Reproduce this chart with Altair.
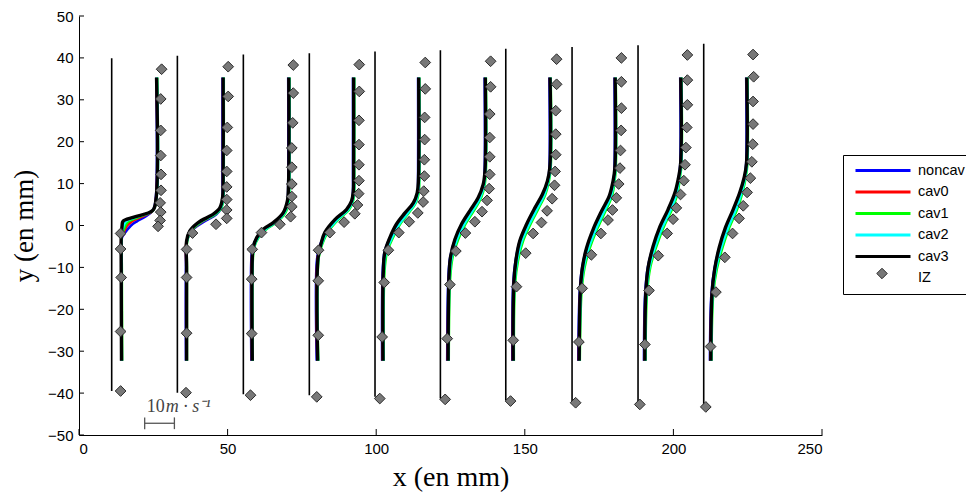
import altair as alt
import pandas as pd

# ---------------- data ----------------
cases = ["noncav", "cav0", "cav1", "cav2", "cav3"]
case_colors = ["#0000ff", "#ff0000", "#00ff00", "#00ffff", "#000000"]
legend_domain = cases + ["IZ"]
stroke_range = case_colors + ["transparent"]
iz_fill = "#787878"
iz_edge = "#2b2b2b"

# station reference (zero-velocity) lines
station_x = [11.0, 33.1, 55.3, 77.5, 99.6, 121.6, 143.6, 165.9, 188.1, 210.2]
station_top = [39.9, 40.5, 40.8, 41.1, 41.5, 41.8, 42.2, 42.6, 43.0, 43.4]
station_bot = [-39.5, -39.9, -40.3, -40.5, -40.9, -41.3, -41.7, -42.1, -42.5, -43.3]

# profile y positions per station
prof_y = [
    [-32.3, -10.0, -3.0, -2.0, 0.0, 1.0, 2.0, 3.6, 6.2, 35.3],
    [-32.3, -10.0, -3.7, -1.3, 0.7, 2.7, 4.2, 6.6, 11.4, 35.3],
    [-32.3, -8.0, -5.3, -2.9, -0.9, 0.7, 3.0, 5.8, 9.8, 35.3],
    [-32.3, -8.0, -4.5, -1.7, 1.4, 3.8, 5.8, 8.2, 12.0, 35.3],
    [-32.3, -10.8, -6.4, -2.9, 0.3, 3.0, 5.4, 7.8, 10.6, 35.3],
    [-32.3, -12.4, -7.6, -3.3, 0.3, 3.5, 6.6, 9.8, 13.0, 35.3],
    [-32.3, -14.0, -8.4, -3.7, 0.3, 4.2, 7.4, 10.6, 13.7, 35.3],
    [-32.3, -15.6, -10.0, -5.3, -0.9, 3.4, 7.0, 10.6, 13.7, 35.3],
    [-32.3, -16.3, -10.0, -4.9, -0.4, 3.8, 7.8, 11.0, 14.5, 35.3],
    [-32.3, -16.3, -10.4, -5.3, -0.5, 3.8, 7.8, 11.4, 14.9, 35.3],
]

x_noncav = [
    [14.4, 14.3, 14.4, 15.2, 17.5, 19.5, 22.0, 24.9, 25.8, 26.0],
    [36.0, 36.0, 36.3, 37.8, 41.5, 46.2, 47.8, 48.3, 48.3, 48.3],
    [58.0, 58.0, 58.4, 59.9, 62.6, 66.0, 69.1, 70.2, 70.4, 70.4],
    [80.0, 80.1, 81.2, 83.0, 86.8, 90.6, 91.9, 92.2, 92.2, 92.2],
    [102.0, 102.2, 102.8, 104.7, 107.3, 110.4, 113.0, 114.0, 114.1, 114.1],
    [123.9, 124.3, 124.9, 126.6, 129.1, 132.1, 134.8, 136.2, 136.5, 136.5],
    [145.8, 146.1, 146.9, 148.4, 151.0, 154.0, 156.4, 157.8, 158.3, 158.3],
    [168.0, 168.5, 169.3, 170.9, 173.4, 176.4, 178.9, 179.9, 180.2, 180.2],
    [190.1, 190.5, 191.4, 193.3, 195.8, 198.8, 201.0, 201.8, 202.3, 202.3],
    [212.3, 212.8, 213.8, 215.5, 217.9, 220.7, 222.8, 224.0, 224.5, 224.5],
]
x_cav0 = [
    [14.4, 14.3, 14.3, 14.8, 16.2, 17.8, 20.8, 24.9, 25.9, 26.1],
    [36.1, 36.1, 36.2, 37.6, 40.9, 45.8, 47.7, 48.4, 48.5, 48.5],
    [58.2, 58.2, 58.6, 60.0, 62.5, 65.9, 69.0, 70.3, 70.6, 70.6],
    [80.2, 80.3, 81.4, 83.1, 86.7, 90.5, 92.0, 92.4, 92.4, 92.4],
    [102.2, 102.4, 103.0, 104.9, 107.3, 110.3, 112.9, 114.0, 114.3, 114.3],
    [124.1, 124.5, 125.1, 126.8, 129.2, 132.0, 134.7, 136.2, 136.7, 136.7],
    [146.0, 146.3, 147.1, 148.6, 151.1, 153.9, 156.3, 157.8, 158.5, 158.5],
    [168.2, 168.7, 169.5, 171.1, 173.5, 176.3, 178.8, 179.9, 180.4, 180.4],
    [190.3, 190.7, 191.6, 193.5, 195.9, 198.7, 200.9, 201.8, 202.5, 202.5],
    [212.5, 213.0, 214.0, 215.7, 218.0, 220.6, 222.7, 224.0, 224.7, 224.7],
]
x_cav1 = [
    [14.5, 14.4, 14.3, 14.6, 15.6, 16.8, 20.0, 24.9, 26.0, 26.3],
    [36.3, 36.3, 36.4, 37.6, 40.8, 45.9, 47.9, 48.6, 48.7, 48.7],
    [58.4, 58.5, 58.9, 60.4, 63.0, 66.4, 69.4, 70.6, 70.8, 70.8],
    [80.5, 80.6, 81.8, 83.6, 87.2, 90.9, 92.2, 92.6, 92.6, 92.6],
    [102.5, 102.8, 103.6, 105.6, 108.0, 110.9, 113.3, 114.3, 114.5, 114.5],
    [124.4, 124.9, 125.7, 127.6, 130.0, 132.8, 135.3, 136.5, 136.9, 136.9],
    [146.3, 146.7, 147.7, 149.4, 151.9, 154.7, 156.9, 158.1, 158.7, 158.7],
    [168.5, 169.1, 170.1, 171.9, 174.3, 177.1, 179.3, 180.2, 180.6, 180.6],
    [190.6, 191.1, 192.2, 194.3, 196.7, 199.5, 201.4, 202.1, 202.7, 202.7],
    [212.8, 213.4, 214.6, 216.5, 218.8, 221.4, 223.2, 224.3, 224.9, 224.9],
]
x_cav2 = [
    [14.4, 14.3, 14.3, 14.4, 15.0, 15.8, 19.3, 24.8, 26.0, 26.2],
    [36.2, 36.2, 36.3, 37.5, 40.5, 45.6, 47.7, 48.5, 48.6, 48.6],
    [58.3, 58.4, 58.8, 60.2, 62.7, 66.1, 69.1, 70.4, 70.7, 70.7],
    [80.4, 80.5, 81.6, 83.3, 86.9, 90.6, 92.0, 92.5, 92.5, 92.5],
    [102.4, 102.6, 103.3, 105.3, 107.7, 110.6, 113.1, 114.1, 114.4, 114.4],
    [124.3, 124.7, 125.4, 127.2, 129.6, 132.4, 135.0, 136.3, 136.8, 136.8],
    [146.2, 146.5, 147.4, 149.0, 151.5, 154.3, 156.6, 157.9, 158.6, 158.6],
    [168.4, 168.9, 169.8, 171.5, 173.9, 176.7, 179.0, 180.0, 180.5, 180.5],
    [190.5, 190.9, 191.9, 193.9, 196.3, 199.1, 201.1, 201.9, 202.6, 202.6],
    [212.7, 213.2, 214.3, 216.1, 218.4, 221.0, 222.9, 224.1, 224.8, 224.8],
]
x_cav3 = [
    [14.3, 14.2, 14.2, 14.3, 14.5, 14.8, 18.5, 24.8, 25.9, 26.1],
    [36.2, 36.2, 36.2, 37.3, 40.1, 45.2, 47.4, 48.3, 48.5, 48.5],
    [58.3, 58.3, 58.6, 59.8, 62.0, 65.4, 68.7, 70.1, 70.5, 70.6],
    [80.3, 80.4, 81.4, 82.7, 86.1, 90.0, 91.7, 92.3, 92.4, 92.4],
    [102.3, 102.4, 102.9, 104.6, 106.8, 109.7, 112.5, 113.8, 114.2, 114.3],
    [124.2, 124.5, 125.0, 126.5, 128.7, 131.5, 134.3, 136.0, 136.6, 136.7],
    [146.1, 146.3, 147.0, 148.3, 150.6, 153.4, 155.9, 157.6, 158.4, 158.5],
    [168.3, 168.7, 169.4, 170.8, 173.0, 175.8, 178.4, 179.7, 180.3, 180.4],
    [190.4, 190.7, 191.5, 193.2, 195.4, 198.2, 200.5, 201.6, 202.4, 202.5],
    [212.6, 213.0, 213.9, 215.4, 217.5, 220.1, 222.3, 223.8, 224.6, 224.7],
]

# IZ measurement points (diamonds)
iz_y = [
    [37.3, 30.2, 22.7, 16.7, 12.2, 8.4, 5.4, 3.2, 1.2, -0.2, -1.9, -5.6, -12.4, -25.3, -39.5],
    [37.9, 30.8, 23.4, 17.9, 12.9, 9.2, 6.2, 3.7, 1.7, 0.3, -1.8, -5.7, -12.4, -25.7, -39.9],
    [38.3, 31.6, 24.5, 18.5, 13.9, 9.9, 6.9, 4.5, 2.1, 0.3, -1.7, -5.7, -12.8, -25.8, -40.5],
    [38.4, 32.0, 25.1, 19.3, 14.5, 10.7, 7.6, 4.9, 2.8, 0.8, -1.7, -5.9, -13.2, -26.2, -40.9],
    [38.9, 32.6, 25.8, 20.5, 15.7, 11.8, 8.2, 5.6, 3.0, 0.9, -1.7, -5.9, -13.6, -26.6, -41.3],
    [39.2, 33.1, 26.6, 21.0, 16.4, 12.2, 8.8, 6.0, 3.3, 0.9, -1.8, -6.1, -14.1, -27.0, -41.5],
    [39.7, 33.7, 27.4, 21.8, 16.9, 12.9, 9.6, 6.4, 3.5, 0.7, -1.9, -6.6, -14.6, -27.4, -41.9],
    [40.0, 34.3, 28.0, 22.7, 17.9, 13.7, 9.9, 6.6, 3.7, 1.3, -1.9, -7.0, -15.0, -27.8, -42.3],
    [40.7, 34.7, 28.8, 23.4, 18.6, 14.5, 10.7, 7.4, 4.2, 1.5, -1.9, -7.2, -15.5, -28.4, -42.7],
    [40.8, 35.5, 29.6, 24.2, 19.4, 15.2, 11.3, 7.9, 4.7, 1.7, -1.9, -7.6, -15.9, -28.9, -43.3],
]
iz_x = [
    [27.8, 27.5, 27.5, 27.5, 27.6, 27.6, 27.3, 27.5, 27.3, 26.6, 14.0, 14.0, 14.2, 14.0, 14.0],
    [50.2, 50.2, 49.9, 49.7, 49.7, 49.7, 49.7, 49.7, 49.7, 46.1, 38.2, 36.2, 36.2, 36.2, 36.0],
    [72.1, 72.1, 71.9, 71.6, 71.6, 71.6, 71.6, 71.6, 71.2, 67.6, 61.4, 58.3, 58.1, 58.1, 57.7],
    [94.3, 94.3, 94.2, 94.2, 94.2, 94.2, 94.1, 93.7, 92.8, 89.2, 84.4, 80.6, 80.5, 80.5, 80.0],
    [116.5, 116.5, 116.3, 116.3, 116.2, 116.2, 116.0, 115.8, 114.0, 111.1, 107.6, 104.1, 102.7, 102.0, 101.2],
    [138.5, 138.5, 138.2, 138.2, 138.2, 138.2, 138.0, 137.3, 135.6, 133.2, 130.0, 126.8, 124.8, 123.9, 123.2],
    [160.7, 160.7, 160.4, 160.4, 160.4, 160.2, 160.0, 159.2, 157.5, 155.6, 152.8, 150.3, 147.2, 146.1, 145.2],
    [182.5, 182.5, 182.5, 182.4, 182.2, 182.0, 181.6, 180.8, 179.5, 178.0, 175.6, 172.4, 169.3, 168.2, 167.1],
    [204.7, 204.7, 204.7, 204.5, 204.2, 203.9, 203.5, 202.4, 201.0, 199.9, 197.9, 194.9, 191.8, 190.4, 188.7],
    [226.8, 227.0, 226.8, 226.8, 226.7, 226.4, 225.9, 224.8, 223.5, 222.1, 219.9, 217.3, 214.3, 212.5, 210.9],
]

# velocity scale bar (10 m/s)
bar_x = [22.1, 32.1]
bar_y = -47.2
bar_cap = [-45.8, -48.6]
bar_label_num = "10"
bar_label_unit = "m · s⁻¹"
bar_label_x = [22.8, 29.2]
bar_label_y = -44.6

x_ticks = [0, 50, 100, 150, 200, 250]
y_ticks = [-50, -40, -30, -20, -10, 0, 10, 20, 30, 40, 50]

# ---------------- tables ----------------
prof_rows = []
for c, xs_ in zip(cases, [x_noncav, x_cav0, x_cav1, x_cav2, x_cav3]):
    for s in range(len(station_x)):
        for k, (yy, xx) in enumerate(zip(prof_y[s], xs_[s])):
            prof_rows.append({"case": c, "station": s, "k": k, "x": xx, "y": yy})
prof = pd.DataFrame(prof_rows)

iz_rows = []
for s in range(len(station_x)):
    for yy, xx in zip(iz_y[s], iz_x[s]):
        iz_rows.append({"case": "IZ", "station": s, "x": xx, "y": yy})
iz = pd.DataFrame(iz_rows)

st = pd.DataFrame({"x": station_x, "top": station_top, "bot": station_bot})

W, H = 743, 419
xs = alt.Scale(domain=[0, 250], nice=False, zero=False)
ys = alt.Scale(domain=[-50, 50], nice=False, zero=False)

legend_lines = alt.Legend(
    title=None, orient="none", legendX=764, legendY=139,
    strokeColor="black", fillColor="white", padding=8,
    symbolType="stroke", symbolSize=3025, symbolStrokeWidth=3, symbolOffset=3,
    labelFont="Liberation Sans", labelFontSize=14.5, labelColor="black",
    labelOffset=6, rowPadding=5.5, labelLimit=200, clipHeight=15,
    symbolOpacity=1, zindex=0,
)
legend_iz = alt.Legend(
    title=None, orient="none", legendX=797, legendY=250,
    padding=0, symbolType="diamond", symbolSize=110, symbolStrokeColor=iz_edge,
    symbolStrokeWidth=1, symbolFillColor=iz_fill, symbolOpacity=1,
    labelExpr="''", clipHeight=15, zindex=1,
)

x_axis = alt.Axis(values=x_ticks, ticks=False, grid=False, domainColor="black",
                  labelFont="Liberation Sans", labelFontSize=15, labelColor="black",
                  labelPadding=6, title="x (en mm)", titleFont="Liberation Serif",
                  titleFontSize=28, titleFontWeight="normal", titleColor="black",
                  titlePadding=7)
y_axis = alt.Axis(values=y_ticks, ticks=False, grid=False, domainColor="black",
                  labelFont="Liberation Sans", labelFontSize=15, labelColor="black",
                  labelPadding=6, title="y (en mm)", titleFont="Liberation Serif",
                  titleFontSize=27, titleFontWeight="normal", titleColor="black",
                  titlePadding=9)

base_rules = alt.Chart(st).mark_rule(color="black", strokeWidth=1.6).encode(
    x=alt.X("x:Q", scale=xs, axis=x_axis),
    y=alt.Y("top:Q", scale=ys, axis=y_axis),
    y2="bot:Q",
)

stroke_enc = alt.Stroke("case:N", scale=alt.Scale(domain=legend_domain, range=stroke_range),
                        legend=legend_lines)

line_layers = []
for c in cases:
    w = 3.4 if c == "cav3" else 2.6
    line_layers.append(
        alt.Chart(prof[prof["case"] == c]).mark_line(strokeWidth=w, interpolate="catmull-rom").encode(
            x=alt.X("x:Q", scale=xs),
            y=alt.Y("y:Q", scale=ys),
            stroke=stroke_enc,
            detail="station:N",
            order="k:Q",
        )
    )

points = alt.Chart(iz).mark_point(shape="diamond", filled=True, size=115, stroke=iz_edge,
                                  strokeWidth=1, opacity=1).encode(
    x=alt.X("x:Q", scale=xs),
    y=alt.Y("y:Q", scale=ys),
    fill=alt.Fill("case:N", scale=alt.Scale(domain=["IZ"], range=[iz_fill]), legend=legend_iz),
)

bar_df = pd.DataFrame({"x": [bar_x[0]], "x2": [bar_x[1]], "y": [bar_y]})
bar = alt.Chart(bar_df).mark_rule(color="#555555", strokeWidth=1.3).encode(
    x=alt.X("x:Q", scale=xs), x2="x2:Q", y=alt.Y("y:Q", scale=ys))
caps_df = pd.DataFrame({"x": bar_x, "y": [bar_cap[0]] * 2, "y2": [bar_cap[1]] * 2})
caps = alt.Chart(caps_df).mark_rule(color="#555555", strokeWidth=1.3).encode(
    x=alt.X("x:Q", scale=xs), y=alt.Y("y:Q", scale=ys), y2="y2:Q")
lab_df = pd.DataFrame({"x": bar_label_x, "y": [bar_label_y] * 2,
                       "t": [bar_label_num, bar_label_unit]})
lab_num = alt.Chart(lab_df.iloc[[0]]).mark_text(
    align="left", baseline="alphabetic", font="Liberation Serif", fontSize=18, color="#444444"
).encode(x=alt.X("x:Q", scale=xs), y=alt.Y("y:Q", scale=ys), text="t:N")
lab_unit = alt.Chart(lab_df.iloc[[1]]).mark_text(
    align="left", baseline="alphabetic", font="Liberation Serif", fontSize=18,
    fontStyle="italic", color="#444444"
).encode(x=alt.X("x:Q", scale=xs), y=alt.Y("y:Q", scale=ys), text="t:N")

xt = pd.DataFrame({"v": x_ticks})
yt = pd.DataFrame({"v": y_ticks})
xtick = alt.Chart(xt).mark_rule(color="black", strokeWidth=1).encode(
    x=alt.X("v:Q", scale=xs), y=alt.value(H), y2=alt.value(H - 6))
ytick = alt.Chart(yt).mark_rule(color="black", strokeWidth=1).encode(
    y=alt.Y("v:Q", scale=ys), x=alt.value(0), x2=alt.value(5))

chart = alt.layer(
    base_rules, *line_layers, points, bar, caps, lab_num, lab_unit, xtick, ytick
).properties(
    width=W, height=H,
    autosize=alt.AutoSizeParams(type="none"),
    padding={"left": 71, "top": 8, "right": 144, "bottom": 57},
).configure(background="white").configure_view(stroke=None)

chart.save("out.html", embed_options={"renderer": "svg", "actions": False})
